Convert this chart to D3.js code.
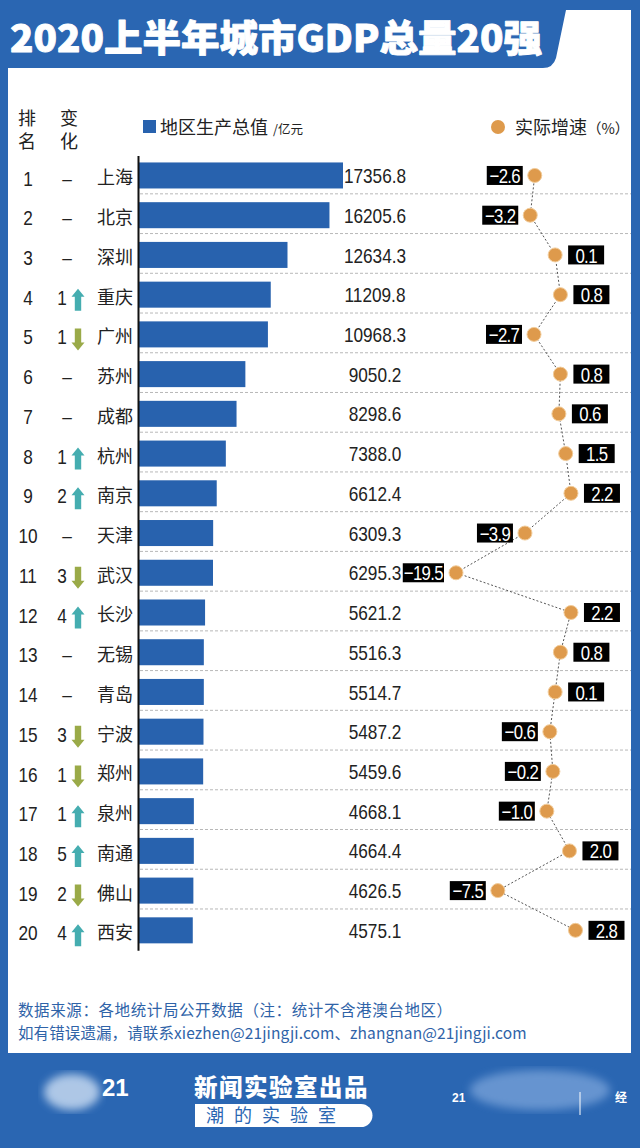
<!DOCTYPE html>
<html><head><meta charset="utf-8">
<script src="https://cdn.jsdelivr.net/npm/d3@7"></script>
<style>body{margin:0;background:#2a66b2;} svg{display:block}</style>
</head><body><svg id="c" width="640" height="1148"></svg>
<script>
// ---- data ----
const ranks = [1,2,3,4,5,6,7,8,9,10,11,12,13,14,15,16,17,18,19,20];
const cities = ["上海","北京","深圳","重庆","广州","苏州","成都","杭州","南京","天津","武汉","长沙","无锡","青岛","宁波","郑州","泉州","南通","佛山","西安"];
const gdp = [17356.8,16205.6,12634.3,11209.8,10968.3,9050.2,8298.6,7388.0,6612.4,6309.3,6295.3,5621.2,5516.3,5514.7,5487.2,5459.6,4668.1,4664.4,4626.5,4575.1];
const growth = [-2.6,-3.2,0.1,0.8,-2.7,0.8,0.6,1.5,2.2,-3.9,-19.5,2.2,0.8,0.1,-0.6,-0.2,-1.0,2.0,-7.5,2.8];
const rankChange = [0,0,0,1,-1,0,0,1,2,0,-3,4,0,0,-3,-1,1,5,-2,4];
const titleText = "2020上半年城市GDP总量20强";
const headRank = "排名", headChange = "变化";
const legendBar = "地区生产总值", legendBarUnit = "/亿元";
const legendDot = "实际增速", legendDotUnit = "（%）";
const footer1 = "数据来源：各地统计局公开数据（注：统计不含港澳台地区）";
const footer2 = "如有错误遗漏，请联系xiezhen@21jingji.com、zhangnan@21jingji.com";

const BLUE = "#2a66b2", BAR = "#2862ae", ORANGE = "#de9a4c";
const NUMF = "'Liberation Sans',Arial,sans-serif";
const CJK = "'Noto Sans CJK SC','Noto Sans',sans-serif";
const SX = 0.82; // horizontal condensation of numeric text

const svg = d3.select("#c");
svg.append("rect").attr("width",640).attr("height",1148).attr("fill",BLUE);
svg.append("path").attr("fill","#fff")
  .attr("d","M8,68 L543,68 Q553,68 556,58 L566,10 L631,10 L631,1053 L8,1053 Z");

// title
svg.append("text").text(titleText)
  .attr("x",10).attr("y",52).attr("fill","#fff")
  .attr("stroke","#fff").attr("stroke-width",0.9).attr("stroke-linejoin","round")
  .attr("font-family",CJK).attr("font-weight",900).attr("font-size",37)
  .attr("textLength",532).attr("lengthAdjust","spacingAndGlyphs");

// scales
const n = cities.length;
const y = d3.scaleBand().domain(cities).range([155.6,950.2]).paddingInner(0.345).paddingOuter(0.1725);
const yc = c => y(c) + y.bandwidth()/2;
const x = d3.scaleLinear().domain([0,17356.8]).range([139,343]);
const gx = d3.scaleLinear().domain([-19.5,-7.5,3]).range([456,497.8,577]);
const step = y.step();

function num(g, tx, ty, str, anchor){
  return g.append("text").attr("transform",`translate(${tx},${ty}) scale(${SX},1)`)
    .attr("dominant-baseline","central").attr("text-anchor",anchor||"middle")
    .attr("font-family",NUMF).attr("font-size",21).attr("fill","#222").text(str);
}

// gridlines
const gl = svg.append("g");
cities.slice(0,n-1).forEach(c=>{
  gl.append("line").attr("x1",140).attr("x2",631)
    .attr("y1",yc(c)+step/2-1.5).attr("y2",yc(c)+step/2-1.5)
    .attr("stroke","#b8b8b8").attr("stroke-width",1).attr("stroke-dasharray","3,2");
});

// header (vertical two-character labels)
const hdr = svg.append("g").attr("font-family",CJK).attr("font-size",18).attr("fill","#222");
hdr.append("text").attr("x",27).attr("y",109).attr("writing-mode","vertical-rl").attr("letter-spacing",5).text(headRank);
hdr.append("text").attr("x",69).attr("y",109).attr("writing-mode","vertical-rl").attr("letter-spacing",5).text(headChange);

// legend
svg.append("rect").attr("x",143).attr("y",120).attr("width",13).attr("height",13).attr("fill",BAR);
svg.append("text").attr("x",160).attr("y",134).attr("font-family",CJK).attr("font-size",18).attr("fill","#222").text(legendBar);
svg.append("text").attr("x",273).attr("y",134).attr("font-family",CJK).attr("font-size",12.5).attr("fill","#222").text(legendBarUnit);
svg.append("circle").attr("cx",498).attr("cy",127).attr("r",7).attr("fill",ORANGE);
const ld = svg.append("text").attr("x",515).attr("y",134).attr("font-family",CJK).attr("fill","#222");
ld.append("tspan").attr("font-size",18).text(legendDot);
ld.append("tspan").attr("font-size",14.5).text(legendDotUnit);

// bars
svg.append("g").selectAll("rect").data(cities).join("rect")
  .attr("x",x(0)).attr("y",c=>y(c)).attr("height",y.bandwidth())
  .attr("width",(c,i)=>x(gdp[i])-x(0)).attr("fill",BAR);

// axis with city names
const ax = svg.append("g").attr("transform","translate(138,0)")
  .call(d3.axisLeft(y).tickSize(0).tickPadding(5));
ax.select(".domain").attr("stroke","#111").attr("stroke-width",2);
ax.selectAll("text").attr("font-family",CJK).attr("font-size",18).attr("fill","#222").attr("dy","0.5em");

// rank numbers
const rk = svg.append("g");
cities.forEach((c,i)=>num(rk, 28, yc(c)+3, ranks[i]));

// change column
const ch = svg.append("g");
cities.forEach((c,i)=>{
  const v = rankChange[i], cy = yc(c)+3;
  if (v===0){
    num(ch, 67, cy, "–");
  } else {
    num(ch, 62, cy, Math.abs(v));
    const up = v>0;
    const p = up ? "M0,-11 L6.5,-3 L3.2,-3 L3.2,11 L-3.2,11 L-3.2,-3 L-6.5,-3 Z"
                 : "M0,11 L6.5,3 L3.2,3 L3.2,-11 L-3.2,-11 L-3.2,3 L-6.5,3 Z";
    ch.append("path").attr("d",p).attr("transform",`translate(78,${cy+2})`)
      .attr("fill", up ? "#45adb0" : "#9aaa48");
  }
});

// value labels
const vl = svg.append("g");
cities.forEach((c,i)=>num(vl, 375, yc(c)+0.5, d3.format(".1f")(gdp[i])));

// growth line
const pts = cities.map((c,i)=>[gx(growth[i]), yc(c)]);
svg.append("path").attr("d",d3.line()(pts)).attr("fill","none")
  .attr("stroke","#555").attr("stroke-width",1).attr("stroke-dasharray","2,2");

// growth dots
svg.append("g").selectAll("circle").data(pts).join("circle")
  .attr("cx",d=>d[0]).attr("cy",d=>d[1]).attr("r",7)
  .attr("fill",ORANGE).attr("stroke","#f2cc9a").attr("stroke-width",1);

// growth labels
const lg = svg.append("g");
cities.forEach((c,i)=>{
  const v = growth[i], cx = gx(v), cy = yc(c);
  const g = lg.append("g");
  const r = g.append("rect").attr("fill","#000");
  const t = num(g, 0, cy+0.5, d3.format(".1f")(v)).attr("fill","#fff")
    .attr("font-size",20.5).attr("letter-spacing",-0.8);
  const tw = t.node().getComputedTextLength()*SX;
  const w = Math.max(36, tw+2);
  const bx = v<0 ? cx-12-w : cx+13;
  r.attr("x",bx).attr("y",cy-9.5).attr("width",w).attr("height",19);
  t.attr("transform",`translate(${bx+w/2},${cy+0.5}) scale(${SX},1)`);
});

// footer
const ft = svg.append("g").attr("font-family",CJK).attr("font-size",15.5).attr("fill","#2f63a8");
ft.append("text").attr("x",18).attr("y",1016).attr("letter-spacing",0.6).text(footer1);
ft.append("text").attr("x",18).attr("y",1039).attr("letter-spacing",0.1).text(footer2);

// bottom banner
const defs = svg.append("defs");
defs.append("filter").attr("id","blur").append("feGaussianBlur").attr("stdDeviation",4);
const bb = svg.append("g");
bb.append("ellipse").attr("cx",72).attr("cy",1092).attr("rx",28).attr("ry",18).attr("fill","#cfe0f4").attr("opacity",0.8).attr("filter","url(#blur)");
bb.append("text").attr("x",102).attr("y",1096).attr("font-family","Liberation Sans").attr("font-weight","bold").attr("font-size",24).attr("fill","#fff").text("21");
bb.append("text").attr("x",194).attr("y",1096).attr("font-family",CJK).attr("font-weight",900).attr("font-size",23.5).attr("letter-spacing",1.5).attr("fill","#fff").text("新闻实验室出品");
bb.append("path").attr("d","M195,1104 L361,1104 A11.5,11.5 0 0 1 361,1127 L195,1127 Z").attr("fill","#fff");
bb.append("text").attr("x",206).attr("y",1122).attr("font-family",CJK).attr("font-size",18).attr("letter-spacing",10).attr("fill","#2a66b2").text("潮的实验室");
bb.append("ellipse").attr("cx",540).attr("cy",1090).attr("rx",70).attr("ry",20).attr("fill","#8fb4e4").attr("opacity",0.6).attr("filter","url(#blur)");
bb.append("text").attr("x",452).attr("y",1102).attr("font-family","Liberation Sans").attr("font-weight","bold").attr("font-size",12).attr("fill","#fff").text("21");
bb.append("line").attr("x1",580).attr("x2",580).attr("y1",1092).attr("y2",1115).attr("stroke","#fff").attr("stroke-width",1);
bb.append("text").attr("x",615).attr("y",1102).attr("font-family",CJK).attr("font-weight","bold").attr("font-size",12).attr("fill","#fff").text("经");
</script></body></html>
